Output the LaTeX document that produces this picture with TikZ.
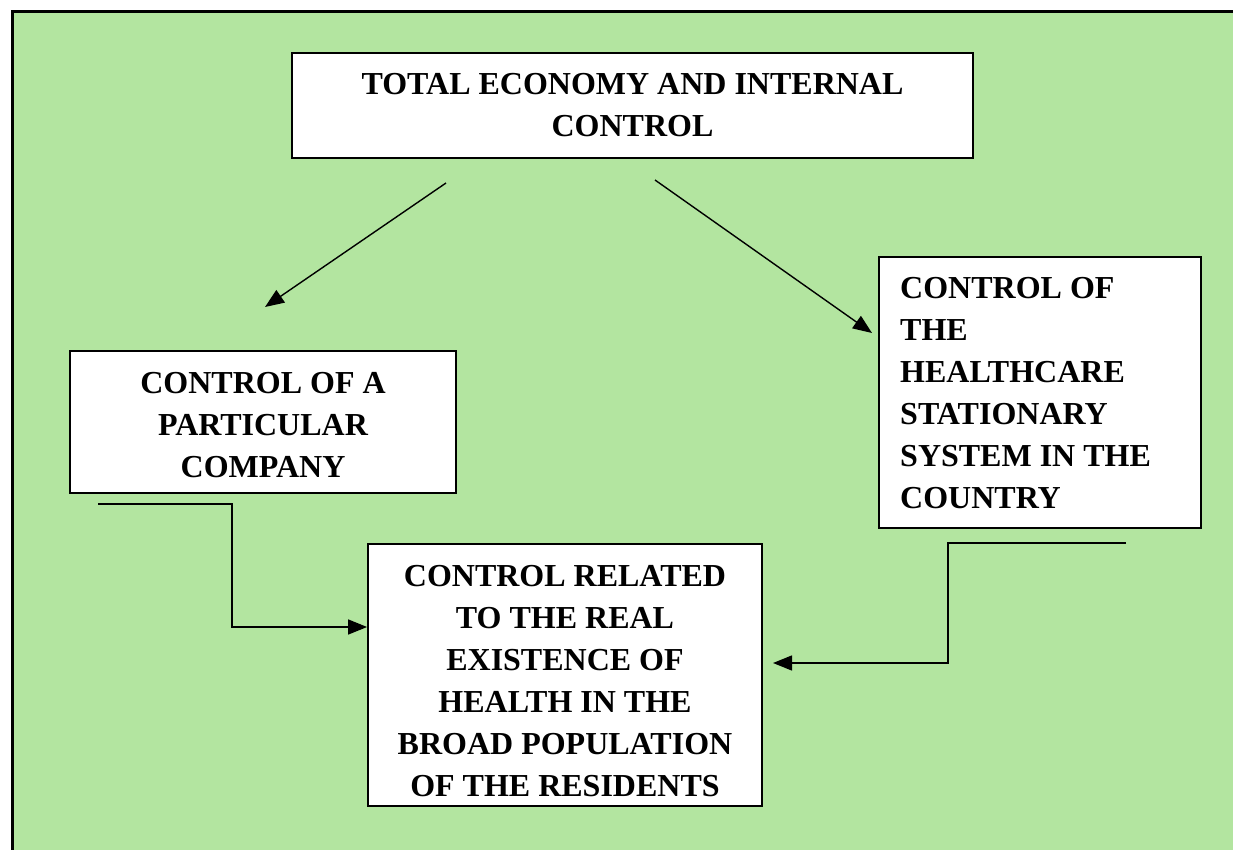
\documentclass[tikz,border=0pt]{standalone}
\usepackage{fontspec}
\setmainfont{Liberation Serif}
\usetikzlibrary{arrows.meta}
\definecolor{bggreen}{HTML}{B3E5A0}
\tikzset{
  box/.style={draw=black, fill=white, line width=1.8pt, inner sep=0pt},
  boxtext/.style={font=\bfseries\fontsize{32}{42}\selectfont, inner sep=0pt},
  conn/.style={draw=black, line width=1.4pt, -{Triangle[length=19pt,width=15pt]}},
}
\begin{document}
\begin{tikzpicture}[x=1pt,y=-1pt]
\useasboundingbox (0,0) rectangle (1233,850);
\fill[bggreen] (12,12) rectangle (1233,850);
\draw[line width=3pt] (1233,12) -- (12,12) -- (12,850);

\node[box, minimum width=681pt, minimum height=105pt] (top) at (632.5,105.5) {};
\node[boxtext, align=center] (toptext) at (632.5,105) {TOTAL ECONOMY AND INTERNAL\\CONTROL};

\node[box, minimum width=386pt, minimum height=142pt] (left) at (263,422) {};
\node[boxtext, align=center] (lefttext) at (263,425.5) {CONTROL OF A\\PARTICULAR\\COMPANY};

\node[box, minimum width=322pt, minimum height=271pt] (right) at (1040,392.5) {};
\node[boxtext, align=left, anchor=west] (righttext) at (900,393)
  {CONTROL OF\\THE\\HEALTHCARE\\STATIONARY\\SYSTEM IN THE\\COUNTRY};

\node[box, minimum width=394pt, minimum height=262pt] (bottom) at (565,675) {};
\node[boxtext, align=center] (bottomtext) at (565,681)
  {CONTROL RELATED\\TO THE REAL\\EXISTENCE OF\\HEALTH IN THE\\BROAD POPULATION\\OF THE RESIDENTS};

\coordinate (a1s) at (446,183);
\coordinate (a1e) at (265,307);
\coordinate (a2s) at (655,180);
\coordinate (a2e) at (872,333);
\coordinate (c3s) at (98,504);
\coordinate (c4s) at (1126,543);
\coordinate (c4e) at (773,663);

\draw[conn] (a1s) -- (a1e);
\draw[conn] (a2s) -- (a2e);
\draw[conn] (c3s) -- (232,504) -- (232,627) -- (bottom.west |- 0,627);
\draw[conn] (c4s) -- (948,543) -- (948,663) -- (c4e);
\end{tikzpicture}
\end{document}
